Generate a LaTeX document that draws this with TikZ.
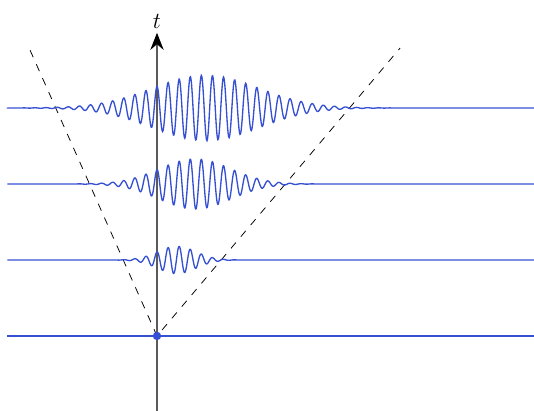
\documentclass[tikz,border=0pt]{standalone}
\usepackage{amsmath,amssymb}
\usepackage{xcolor}
\usepackage{tikz}
\usetikzlibrary{calc,arrows.meta}
\definecolor{wave}{HTML}{3550D2}
\definecolor{axisgray}{HTML}{5A5A5A}

\begin{document}
\begin{tikzpicture}[x=1.4cm,y=1.4cm]
\useasboundingbox (-2.066,-0.987) rectangle (4.961,4.421);
\coordinate (O) at (0,0);
\coordinate (axbot) at (0,-0.99);
\coordinate (axtop) at (0,3.99);
\coordinate (coneL) at (-1.67,3.76);
\coordinate (coneR) at (3.2,3.79);
\draw[axisgray,line width=0.7pt,-{Stealth[length=9pt,width=7pt,inset=3pt,color=black]}] (axbot)--(axtop) node[above,black,font=\large,inner sep=2pt] (tlab) {$t$};
\draw[dash pattern=on 4pt off 4pt,line width=0.4pt] (coneL)--(O)--(coneR);
\draw[wave,line width=0.7pt] (-1.97,0)--(4.96,0);
\foreach \t/\c/\s/\A in {1/0.26/0.25/0.18,2/0.50/0.47/0.33,3/0.64/0.70/0.43}{
  \draw[wave,line width=0.7pt] (-1.97,\t) -- plot[domain={max(-1.97,\c-5*\s)}:{\c+5*\s},samples=900] (\x,{\t+\A*exp(-(\x-\c)^2/(2*\s^2))*cos(2466*\x)}) -- (4.96,\t);}
\fill[wave] (O) circle (2.2pt);
\end{tikzpicture}
\end{document}
